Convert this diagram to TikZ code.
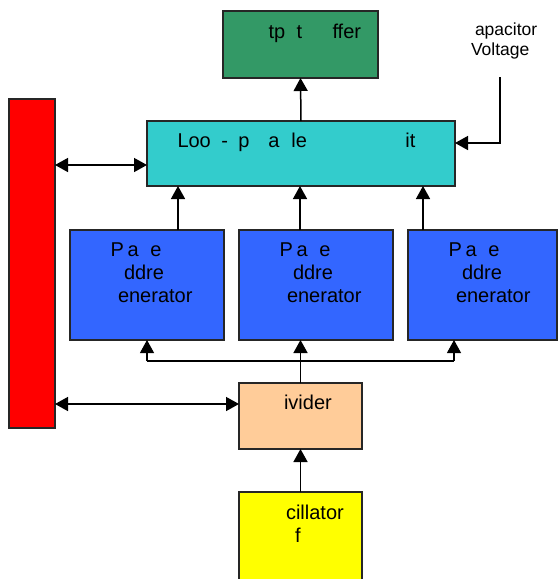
\documentclass[tikz,border=0pt]{standalone}
\usepackage{fontspec}
\setmainfont{Liberation Sans}
\usetikzlibrary{arrows.meta}

% place a piece of text at a horizontal offset from the line start
\newcommand{\putat}[2]{\rlap{\hspace*{#1pt}#2}}

\definecolor{bufgreen}{HTML}{339966}
\definecolor{loopcyan}{HTML}{33CCCC}
\definecolor{busred}{HTML}{FF0000}
\definecolor{genblue}{HTML}{3366FF}
\definecolor{divpeach}{HTML}{FFCC99}
\definecolor{oscyellow}{HTML}{FFFF00}

\tikzset{
  blk/.style={draw=black!85, line width=1.3pt, inner sep=0pt, outer sep=0pt},
  lbl/.style={anchor=base west, inner sep=0pt, outer sep=0pt,
              font=\fontsize{20}{24}\selectfont},
  small/.style={anchor=base west, inner sep=0pt, outer sep=0pt,
              font=\fontsize{17.5}{21}\selectfont},
  wire/.style={line width=1.5pt},
  thinwire/.style={line width=1.1pt},
  tip/.tip={Triangle[length=13pt, width=14pt]},
  arr/.style={wire, -tip},
  thinarr/.style={thinwire, -tip},
  darr/.style={wire, tip-tip},
}

\begin{document}
\begin{tikzpicture}[x=1pt, y=-1pt]
\useasboundingbox (0,0) rectangle (558,579);

\begin{scope}
\clip (0,0) rectangle (558,579);
% blocks
\node[blk, fill=bufgreen, minimum width=155pt, minimum height=67pt] (buf) at (300.5,44.5) {};
\node[blk, fill=loopcyan, minimum width=308pt, minimum height=65pt] (loop) at (301,153.5) {};
\node[blk, fill=busred, minimum width=46pt, minimum height=329pt] (bus) at (32,263.5) {};
\node[blk, fill=genblue, minimum width=154pt, minimum height=110pt] (gen1) at (147,285) {};
\node[blk, fill=genblue, minimum width=154pt, minimum height=110pt] (gen2) at (316,285) {};
\node[blk, fill=genblue, minimum width=149pt, minimum height=110pt] (gen3) at (482.5,285) {};
\node[blk, fill=divpeach, minimum width=123pt, minimum height=66pt] (div) at (300.5,416) {};
\node[blk, fill=oscyellow, minimum width=123pt, minimum height=93pt] (osc) at (300.5,538.5) {};
\end{scope}

% labels
\node[lbl] (buftxt) at (268,38) {\putat{0}{tp}\putat{28}{t}\putat{64}{ffer}};
\node[lbl] (looptxt) at (177,147) {\putat{0}{Loo}\putat{44}{-}\putat{61}{p}\putat{91}{a}\putat{114}{le}\putat{228}{it}};
\foreach \g/\x in {1/70, 2/239, 3/408} {
  \node[lbl] (gen\g a) at (\x+40,256) {\putat{0}{P}\putat{17}{a}\putat{40}{e}};
  \node[lbl] (gen\g b) at (\x+54,279) {ddre};
  \node[lbl] (gen\g c) at (\x+48,302) {enerator};
}
\node[lbl] (divtxt) at (284,409) {ivider};
\node[lbl] (osctxt) at (286,519) {cillator};
\node[lbl] (osctxtb) at (295,542) {f};
\node[small] (captxt) at (475,35) {apacitor};
\node[small] (captxtb) at (471,55) {Voltage};

% connectors
\coordinate (capend) at (500,77);
\coordinate (capin) at ([yshift=10.5pt]loop.east);
\coordinate (loopin) at ([yshift=-11.5pt]loop.west);
\coordinate (divin) at ([yshift=12pt]div.west);
\coordinate (busL) at (147,361);
\coordinate (busM) at (300.5,361);
\coordinate (busR) at (454,361);

\draw[arr] (loop.north) -- (buf.south);
\draw[arr] (capend) |- (capin);
\draw[darr] (bus.east |- loopin) -- (loopin);
\draw[darr] (bus.east |- divin) -- (divin);

\draw[arr] ([xshift=31pt]gen1.north) -- ([xshift=31pt]gen1.north |- loop.south);
\draw[arr] ([xshift=-16pt]gen2.north) -- ([xshift=-16pt]gen2.north |- loop.south);
\draw[arr] ([xshift=-59.5pt]gen3.north) -- ([xshift=-59.5pt]gen3.north |- loop.south);

\draw[wire] (div.north) -- (busM);
\draw[thinwire] (busL) -- (busR);
\draw[thinarr] (busL) -- (gen1.south);
\draw[arr] (busM) -- (busM |- gen2.south);
\draw[thinarr] (busR) -- (busR |- gen3.south);

\draw[arr] (osc.north) -- (div.south);
\end{tikzpicture}
\end{document}
